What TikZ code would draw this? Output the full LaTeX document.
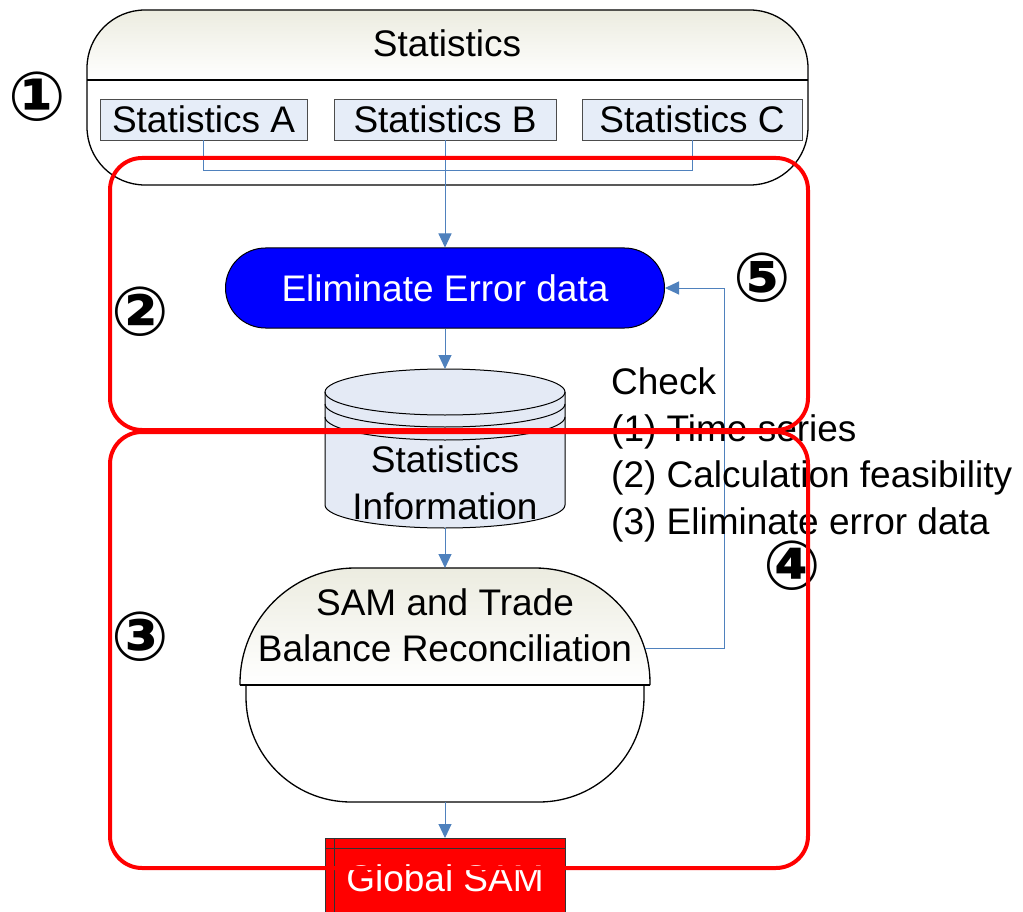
\documentclass[tikz,border=0pt]{standalone}
\usepackage{fontspec}
\setmainfont{Liberation Sans}
\newfontfamily\circfont{DejaVu Sans}
\usetikzlibrary{arrows.meta,positioning}
\definecolor{connblue}{RGB}{79,129,189}
\definecolor{subfill}{RGB}{230,237,248}
\definecolor{dbfill}{RGB}{228,234,245}
\definecolor{beige}{RGB}{236,236,224}
\definecolor{elimblue}{RGB}{0,0,255}
\definecolor{samred}{RGB}{255,0,0}
\newcommand{\txtsize}{\fontsize{37}{46.5}\selectfont}

\begin{document}
\begin{tikzpicture}[x=1pt,y=1pt,
	subbox/.style={draw=black!70, fill=subfill, minimum height=41, inner sep=0, font=\txtsize},
	conn/.style={draw=connblue, line width=1pt},
	arr/.style={conn, -{Triangle[width=13pt,length=14pt]}},
	redbox/.style={draw=samred, line width=4pt, rounded corners=32},
	shapeline/.style={draw=black, line width=1.3pt},
	circnum/.style={font=\circfont\bfseries\fontsize{68}{68}\selectfont, inner sep=0},
	lbl/.style={font=\txtsize, inner sep=0, align=center}]
	
	\useasboundingbox (0,0) rectangle (1023,-912);
	
	% statistics group
	\path[top color=beige, bottom color=white, rounded corners=58] (87,-80) -- (87,-10) -- (808,-10) -- (808,-80);
	\path[fill=white, rounded corners=58] (87,-80) -- (87,-185) -- (808,-185) -- (808,-80);
	\draw[shapeline, rounded corners=58] (87,-10) rectangle (808,-185);
	\draw[shapeline] (87,-80) -- (808,-80);
	\node[lbl] (stattitle) at (447,-43) {Statistics};
	\node[subbox, minimum width=207] (statA) at (203.5,-119.5) {Statistics A};
	\node[subbox, minimum width=222] (statB) at (445,-119.5) {Statistics B};
	\node[subbox, minimum width=220] (statC) at (692,-119.5) {Statistics C};
	\draw[conn] (statA.south) -- ++(0,-30) -| (statC.south);
	
	% eliminate
	\node[draw=black, line width=1pt, fill=elimblue, rounded corners=40, minimum width=439, minimum height=80,
		font=\txtsize, text=white] (elim) at (445,-288) {Eliminate Error data};
	\draw[arr] (statB.south) -- (elim.north);
	
	% database
	\coordinate (dbtop) at (445,-369);
	\coordinate (dbbot) at (445,-528);
	\fill[dbfill] (325,-392) -- (325,-505) arc[start angle=180, end angle=360, x radius=120, y radius=23]
		-- (565,-392) arc[start angle=0, end angle=180, x radius=120, y radius=23] -- cycle;
	\draw[line width=1pt] (325,-392) -- (325,-505) arc[start angle=180, end angle=360, x radius=120, y radius=23] -- (565,-392);
	\draw[line width=1pt] (445,-392) ellipse[x radius=120, y radius=23];
	\draw[line width=1pt] (325,-404) arc[start angle=180, end angle=360, x radius=120, y radius=23];
	\draw[line width=1pt] (325,-417) arc[start angle=180, end angle=360, x radius=120, y radius=23];
	\node[lbl] (db) at (445,-483) {Statistics\\Information};
	\draw[arr] (elim.south) -- (dbtop);
	
	% reconciliation
	\coordinate (samtop) at (445,-568);
	\coordinate (sambot) at (445,-802);
	\coordinate (samR) at (645,-648);
	\path[top color=beige, bottom color=white, shapeline, rounded corners=115] (240,-685) -- (240,-568) -- (650,-568) -- (650,-685);
	\path[fill=white, shapeline, rounded corners=105] (246,-685) -- (246,-802) -- (644,-802) -- (644,-685);
	\draw[line width=2pt] (240,-685) -- (650,-685);
	\node[lbl] (sam) at (445,-625.5) {SAM and Trade\\Balance Reconciliation};
	\draw[arr] (dbbot) -- (samtop);
	
	% feedback loop
	\coordinate (fb) at (724,-648);
	\draw[arr] (samR) -- (fb) |- (elim.east);
	
	% output
	\node[draw=black!80, fill=samred, minimum width=240, minimum height=80, anchor=north,
		font=\txtsize, text=white] (glob) at (445,-838) {Global SAM};
	\draw[black!80] (glob.north west) ++(9,0) -- ++(0,-80);
	\draw[black!80] (glob.north west) ++(0,-10) -- ++(240,0);
	\draw[arr] (sambot) -- (glob.north);
	
	% check list
	\node[font=\txtsize, align=left, anchor=west, inner sep=0] (check) at (611,-455)
		{Check\\(1) Time series\\(2) Calculation feasibility\\(3) Eliminate error data};
	
	% step numbers
	\node[circnum] (n1) at (37,-97) {①};
	\node[circnum] (n2) at (140,-312) {②};
	\node[circnum] (n3) at (140,-637) {③};
	\node[circnum] (n4) at (792,-566) {④};
	\node[circnum] (n5) at (762,-278) {⑤};
	
	% red frames
	\draw[redbox] (110,-158) rectangle (808,-430);
	\draw[redbox] (110,-432) rectangle (808,-868);
\end{tikzpicture}
\end{document}
